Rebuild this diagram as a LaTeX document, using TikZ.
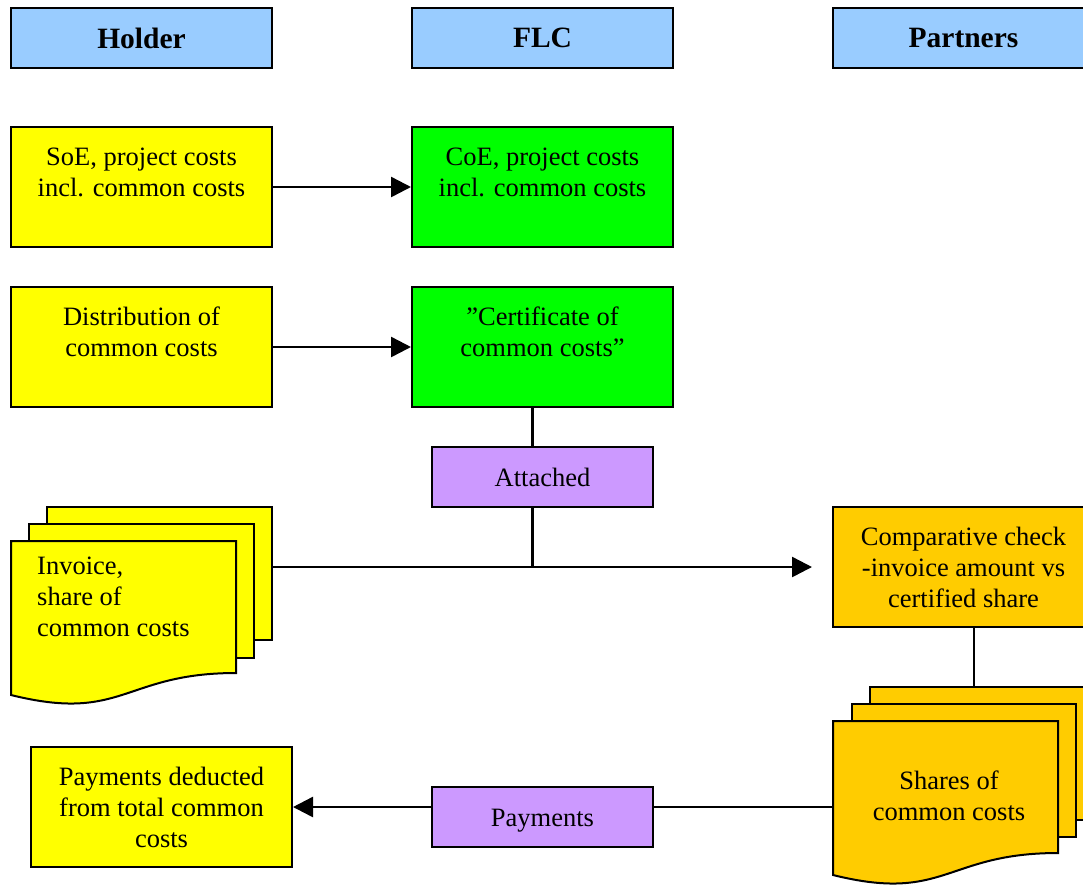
\documentclass[tikz,border=0pt]{standalone}
\usepackage{fontspec}
\setmainfont{Liberation Serif}
\usetikzlibrary{arrows.meta}
\definecolor{hdrblue}{HTML}{99CCFF}
\definecolor{yel}{HTML}{FFFF00}
\definecolor{grn}{HTML}{00FF00}
\definecolor{purp}{HTML}{CC99FF}
\definecolor{orng}{HTML}{FFCC00}
\begin{document}
\begin{tikzpicture}[x=1pt,y=-1pt,
  base/.style={draw=black, line width=2pt, inner sep=0pt},
  hdr/.style={base, fill=hdrblue, minimum width=261pt, minimum height=60pt, font=\fontsize{29.5}{33}\selectfont\bfseries},
  bigbox/.style={base, minimum width=261pt, minimum height=120pt},
  pbox/.style={base, fill=purp, minimum width=221pt, minimum height=60pt, text height=21.5pt, text depth=2.5pt, font=\fontsize{26.5}{31}\selectfont},
  txt/.style={inner sep=0pt, align=center, font=\fontsize{26.5}{31}\selectfont},
  ln/.style={draw=black, line width=2.5pt},
  arr/.style={ln, -{Triangle[length=20pt,width=20pt]}},
  docsh/.style={draw=black, line width=2pt, line join=miter}
]
\useasboundingbox (0,0) rectangle (1083,884);
\clip (0,0) rectangle (1083,884);

% headers
\node[hdr] (hH) at (141.5,38) {Holder};
\node[hdr] (hF) at (542.5,38) {FLC};
\node[hdr] (hP) at (963.5,38) {Partners};

% row 1
\node[bigbox, fill=yel] (soe) at (141.5,187) {};
\node[txt] (soeT) at (141.5,172) {SoE, project costs\\incl. common costs};
\node[bigbox, fill=grn] (coe) at (542.5,187) {};
\node[txt] (coeT) at (542.5,172) {CoE, project costs\\incl. common costs};
\draw[arr] (soe) -- (coe);

% row 2
\node[bigbox, fill=yel] (dist) at (141.5,347) {};
\node[txt] (distT) at (141.5,332) {Distribution of\\common costs};
\node[bigbox, fill=grn] (cert) at (542.5,347) {};
\node[txt] (certT) at (542.5,332) {”Certificate of\\common costs”};
\draw[arr] (dist) -- (cert);

% attached
\node[pbox] (att) at (542.5,477) {Attached};
\coordinate (junc) at (532.5,567);
\draw[ln] (cert.south -| junc) -- (att.north -| junc);
\draw[ln] (att.south -| junc) -- (junc);

% invoice multi-document
\filldraw[docsh, fill=yel] (47,507) rectangle (272,640);
\filldraw[docsh, fill=yel] (29,524) rectangle (254,658);
\filldraw[docsh, fill=yel] (11,541) -- (236,541) -- (236,673) .. controls (123.5,673) and (123.5,723) .. (11,695) -- cycle;
\node[txt, align=left, anchor=west] (invT) at (37,597) {Invoice,\\share of\\common costs};
\coordinate (invout) at (272,567);

% comparative check
\node[bigbox, fill=orng] (cmp) at (963.5,567) {};
\node[txt] (cmpT) at (963.5,567) {Comparative check\\-invoice amount vs\\certified share};
\draw[arr, shorten >=20pt] (invout) -- (cmp.west);

% shares multi-document
\coordinate (shtop) at (974,687);
\draw[ln] (cmp.south -| shtop) -- (shtop);
\filldraw[docsh, fill=orng] (870,687) rectangle (1095,820);
\filldraw[docsh, fill=orng] (852,704) rectangle (1076,837);
\filldraw[docsh, fill=orng] (833,721) -- (1058,721) -- (1058,853) .. controls (945.5,853) and (945.5,903) .. (833,875) -- cycle;
\node[txt] (shT) at (949,796) {Shares of\\common costs};
\coordinate (shin) at (833,807);

% payments
\node[pbox] (pay) at (542.5,817) {Payments};
\node[bigbox, fill=yel] (ded) at (161.5,807) {};
\node[txt] (dedT) at (161.5,807) {Payments deducted\\from total common\\costs};
\draw[ln] (shin) -- (shin -| pay.east);
\draw[arr] (pay.west |- ded.east) -- (ded.east);
\end{tikzpicture}
\end{document}
